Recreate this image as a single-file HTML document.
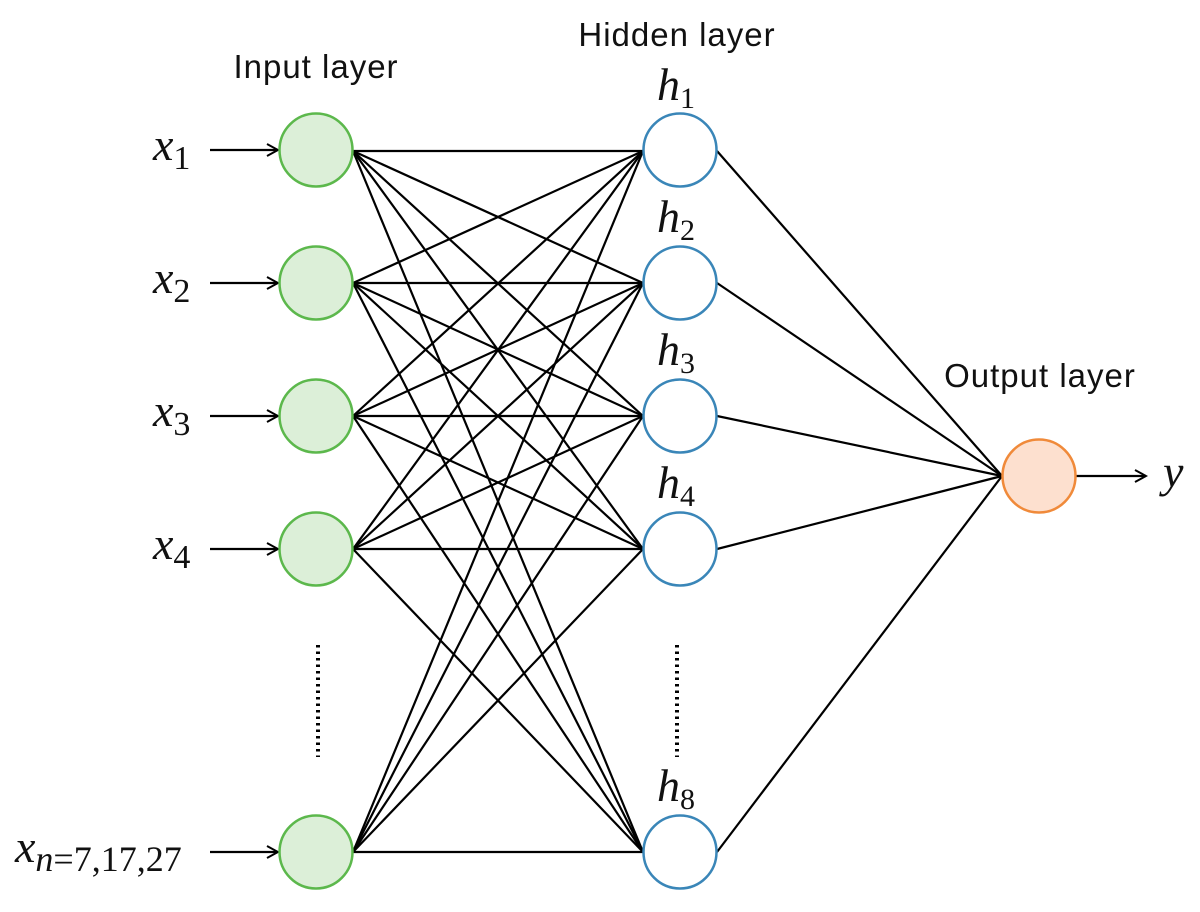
<!DOCTYPE html>
<html><head><meta charset="utf-8"><style>html,body{margin:0;padding:0;background:#fff}svg{display:block}</style></head>
<body>
<svg width="1200" height="912" viewBox="0 0 1200 912" xmlns="http://www.w3.org/2000/svg">
<defs><marker id="a" markerWidth="14" markerHeight="14" refX="12" refY="7" orient="auto" markerUnits="userSpaceOnUse"><path d="M1,1 L12,7 L1,13" fill="none" stroke="#000" stroke-width="2"/></marker></defs>
<g stroke="#000" stroke-width="2.2" fill="none">
<line x1="353" y1="151" x2="643" y2="151"/><line x1="353" y1="151" x2="643" y2="283"/><line x1="353" y1="151" x2="643" y2="416"/><line x1="353" y1="151" x2="643" y2="549"/><line x1="353" y1="151" x2="643" y2="852"/>
<line x1="353" y1="283" x2="643" y2="151"/><line x1="353" y1="283" x2="643" y2="283"/><line x1="353" y1="283" x2="643" y2="416"/><line x1="353" y1="283" x2="643" y2="549"/><line x1="353" y1="283" x2="643" y2="852"/>
<line x1="353" y1="416" x2="643" y2="151"/><line x1="353" y1="416" x2="643" y2="283"/><line x1="353" y1="416" x2="643" y2="416"/><line x1="353" y1="416" x2="643" y2="549"/><line x1="353" y1="416" x2="643" y2="852"/>
<line x1="353" y1="549" x2="643" y2="151"/><line x1="353" y1="549" x2="643" y2="283"/><line x1="353" y1="549" x2="643" y2="416"/><line x1="353" y1="549" x2="643" y2="549"/><line x1="353" y1="549" x2="643" y2="852"/>
<line x1="353" y1="852" x2="643" y2="151"/><line x1="353" y1="852" x2="643" y2="283"/><line x1="353" y1="852" x2="643" y2="416"/><line x1="353" y1="852" x2="643" y2="549"/><line x1="353" y1="852" x2="643" y2="852"/>
<line x1="717" y1="151" x2="1002" y2="476"/><line x1="717" y1="283" x2="1002" y2="476"/><line x1="717" y1="416" x2="1002" y2="476"/><line x1="717" y1="549" x2="1002" y2="476"/><line x1="717" y1="852" x2="1002" y2="476"/>
<line x1="210" y1="150" x2="278" y2="150" marker-end="url(#a)"/>
<line x1="210" y1="283" x2="278" y2="283" marker-end="url(#a)"/>
<line x1="210" y1="416" x2="278" y2="416" marker-end="url(#a)"/>
<line x1="210" y1="549" x2="278" y2="549" marker-end="url(#a)"/>
<line x1="210" y1="852" x2="278" y2="852" marker-end="url(#a)"/>
<line x1="1076" y1="476" x2="1146" y2="476" marker-end="url(#a)"/>
</g>
<g stroke-width="2.5">
<circle cx="316" cy="150" r="36.5" fill="#dcefd8" stroke="#5cb84c"/>
<circle cx="316" cy="283" r="36.5" fill="#dcefd8" stroke="#5cb84c"/>
<circle cx="316" cy="416" r="36.5" fill="#dcefd8" stroke="#5cb84c"/>
<circle cx="316" cy="549" r="36.5" fill="#dcefd8" stroke="#5cb84c"/>
<circle cx="316" cy="852" r="36.5" fill="#dcefd8" stroke="#5cb84c"/>
<circle cx="680" cy="150" r="36.5" fill="#fff" stroke="#3a86b8"/>
<circle cx="680" cy="283" r="36.5" fill="#fff" stroke="#3a86b8"/>
<circle cx="680" cy="416" r="36.5" fill="#fff" stroke="#3a86b8"/>
<circle cx="680" cy="549" r="36.5" fill="#fff" stroke="#3a86b8"/>
<circle cx="680" cy="852" r="36.5" fill="#fff" stroke="#3a86b8"/>
<circle cx="1039" cy="476" r="36.5" fill="#fde0cf" stroke="#f08a3a"/>
</g>
<line x1="318" y1="645" x2="318" y2="757" stroke="#000" stroke-width="4" stroke-dasharray="2.5 4"/>
<line x1="677" y1="645" x2="677" y2="757" stroke="#000" stroke-width="4" stroke-dasharray="2.5 4"/>
<g font-family="Liberation Sans, sans-serif" font-size="33" fill="#111" text-anchor="middle" letter-spacing="1">
<text x="316" y="78">Input layer</text>
<text x="677" y="46">Hidden layer</text>
<text x="1040" y="387">Output layer</text>
</g>
<g font-family="Liberation Serif, serif" font-style="italic" font-size="46" fill="#111">
<text x="153" y="160">x<tspan font-style="normal" font-size="34" dy="9">1</tspan></text>
<text x="153" y="293">x<tspan font-style="normal" font-size="34" dy="9">2</tspan></text>
<text x="153" y="426">x<tspan font-style="normal" font-size="34" dy="9">3</tspan></text>
<text x="153" y="559">x<tspan font-style="normal" font-size="34" dy="9">4</tspan></text>
<text x="15" y="862">x<tspan font-size="36" dy="9">n</tspan><tspan font-style="normal" font-size="36">=7,17,27</tspan></text>
<text x="657" y="100">h<tspan font-style="normal" font-size="30" dy="8">1</tspan></text>
<text x="657" y="232">h<tspan font-style="normal" font-size="30" dy="8">2</tspan></text>
<text x="657" y="365">h<tspan font-style="normal" font-size="30" dy="8">3</tspan></text>
<text x="657" y="498">h<tspan font-style="normal" font-size="30" dy="8">4</tspan></text>
<text x="657" y="801">h<tspan font-style="normal" font-size="30" dy="8">8</tspan></text>
<text x="1163" y="487">y</text>
</g>
</svg>
</body></html>
